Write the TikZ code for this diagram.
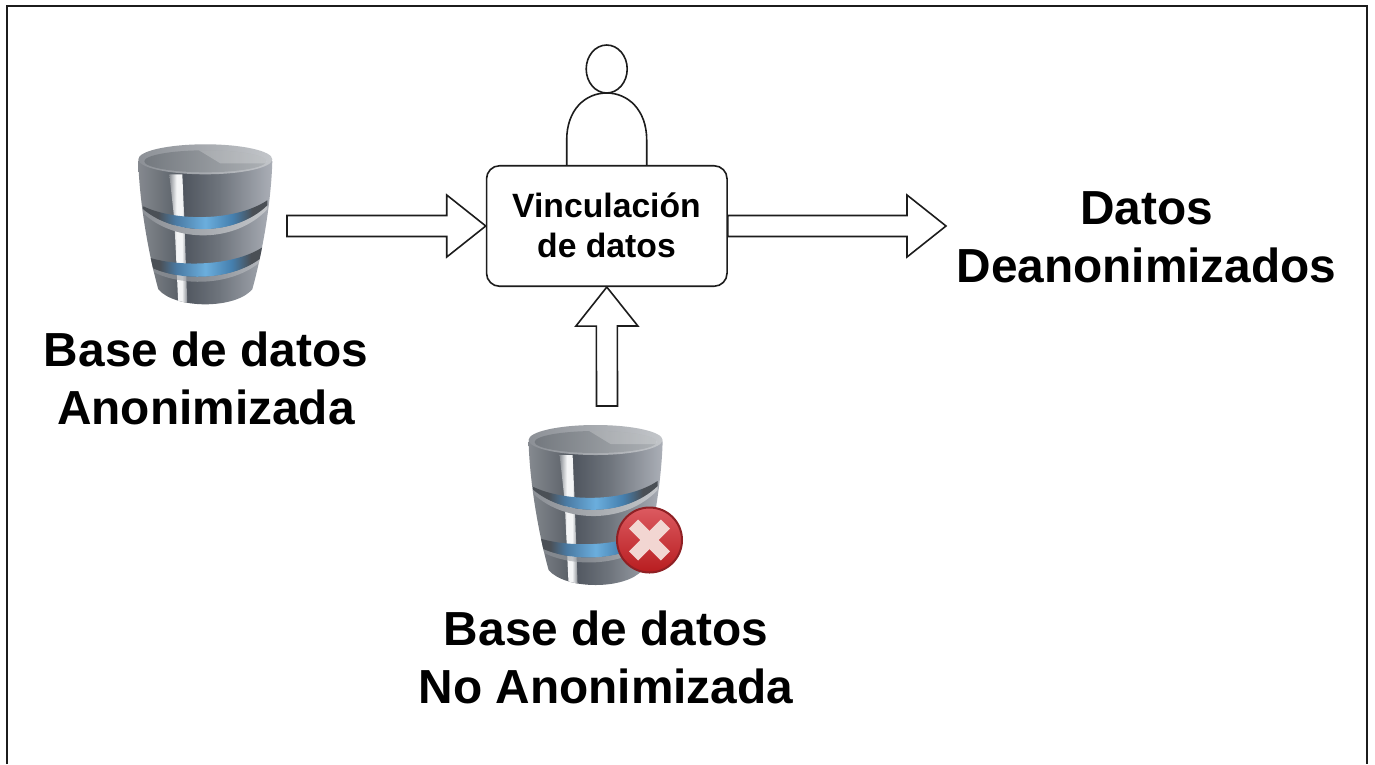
\documentclass[tikz,border=0pt]{standalone}
\usepackage{fontspec}
\setmainfont{Liberation Sans}
\usetikzlibrary{calc}
\definecolor{ink}{HTML}{1C1C1C}
\definecolor{bA}{HTML}{85898F}
\definecolor{bB}{HTML}{61676E}
\definecolor{bC}{HTML}{50565F}
\definecolor{bD}{HTML}{6E747C}
\definecolor{bE}{HTML}{ABAFB7}
\definecolor{sA}{HTML}{8A8E94}
\definecolor{sB}{HTML}{F4F5F6}
\definecolor{nA}{HTML}{4B5056}
\definecolor{nB}{HTML}{4A7AA3}
\definecolor{nC}{HTML}{6BAEDD}
\definecolor{nD}{HTML}{457FAE}
\definecolor{nE}{HTML}{4A4F55}
\definecolor{rA}{HTML}{8C9096}
\definecolor{rB}{HTML}{C3C6CA}
\definecolor{iA}{HTML}{74797F}
\definecolor{iB}{HTML}{ADB1B5}
\definecolor{xTop}{HTML}{DC5A60}
\definecolor{xBot}{HTML}{B81D1F}
\definecolor{xRim}{HTML}{8F2024}
\definecolor{xMark}{HTML}{F2D6D2}
\pgfdeclarehorizontalshading{dbbody}{100bp}{color(0bp)=(bA); color(25bp)=(bA); color(38bp)=(bB); color(42bp)=(bC); color(55bp)=(bD); color(75bp)=(bE); color(100bp)=(bE)}
\pgfdeclarehorizontalshading{dbstrip}{100bp}{color(0bp)=(sA); color(25bp)=(sA); color(45bp)=(sB); color(60bp)=(sB); color(75bp)=(sA); color(100bp)=(sA)}
\pgfdeclarehorizontalshading{dbband}{100bp}{color(0bp)=(nA); color(25bp)=(nA); color(31bp)=(nA); color(38bp)=(nB); color(50bp)=(nC); color(61bp)=(nD); color(69bp)=(nE); color(75bp)=(nE); color(100bp)=(nE)}
\pgfdeclarehorizontalshading{dbring}{100bp}{color(0bp)=(rA); color(25bp)=(rA); color(75bp)=(rB); color(100bp)=(rB)}
\pgfdeclarehorizontalshading{dbinner}{100bp}{color(0bp)=(iA); color(25bp)=(iA); color(75bp)=(iB); color(100bp)=(iB)}
\tikzset{
  frameline/.style={draw=ink,line width=2pt},
  outline/.style={draw=ink,line width=1.6pt},
  bigtext/.style={font=\fontsize{47.8}{58}\selectfont\bfseries,align=center,text=black,inner sep=0pt},
  boxtext/.style={font=\fontsize{33.7}{40}\selectfont\bfseries,align=center,text=black,inner sep=0pt},
  blockarrow/.style={outline,fill=white,miter limit=10,to path={
    ($(\tikztostart)!10.5pt!90:(\tikztotarget)$) --
    ($(\tikztotarget)!39pt!(\tikztostart)!10.5pt!90:(\tikztotarget)$) --
    ($(\tikztotarget)!39pt!(\tikztostart)!31pt!90:(\tikztotarget)$) --
    (\tikztotarget) --
    ($(\tikztotarget)!39pt!(\tikztostart)!31pt!-90:(\tikztotarget)$) --
    ($(\tikztotarget)!39pt!(\tikztostart)!10.5pt!-90:(\tikztotarget)$) --
    ($(\tikztostart)!10.5pt!-90:(\tikztotarget)$) -- cycle}},
  dbicon/.pic={
    \def\dbsil{(-67,2) .. controls (-66,40) and (-58,90) .. (-47,130) .. controls (-30,150) and (30,150) .. (47,130) .. controls (58,90) and (66,40) .. (67,2) .. controls (67,-19) and (-67,-19) .. cycle}
    \shade[shading=dbbody] \dbsil;
    \begin{scope}
      \clip \dbsil;
      \shade[shading=dbstrip] (-36,15) -- (-23,15) -- (-21,60) -- (-18,145) -- (-27,145) -- (-31,60) -- cycle;
      % upper ring and band
      \shade[shading=dbring] (-62,50) .. controls (-30,77) and (30,77) .. (62,46) -- (62,50) .. controls (30,84) and (-30,84) .. (-62,54) -- cycle;
      \shade[shading=dbband] (-62,47) .. controls (-30,62.3) and (30,62.3) .. (62,41) -- (62,46) .. controls (30,77) and (-30,77) .. (-62,50) -- cycle;
      % lower ring and band
      \shade[shading=dbring,opacity=.6] (-60,105) .. controls (-30,123) and (30,123) .. (60,95) -- (60,98) .. controls (30,128.7) and (-30,128.7) .. (-60,108) -- cycle;
      \shade[shading=dbband] (-60,97) .. controls (-30,108) and (30,108) .. (60,86) -- (60,95) .. controls (30,123) and (-30,123) .. (-60,105) -- cycle;
    \end{scope}
    % rim
    \shade[shading=dbring] (0,0) ellipse [x radius=67,y radius=15];
    \begin{scope}
      \clip (0,2) ellipse [x radius=61,y radius=11];
      \shade[shading=dbinner] (-61,-9) rectangle (61,13);
      \fill[white,opacity=.22] (-8,-10) -- (62,-10) -- (62,4) -- (15,4) -- cycle;
    \end{scope}
  }
}
\begin{document}
\begin{tikzpicture}[x=1pt,y=-1pt]
\useasboundingbox (0,0) rectangle (1375,764);
\fill[white] (0,0) rectangle (1375,764);
\draw[frameline] (7,764) -- (7,6) -- (1367,6) -- (1367,764);

% person
\node[draw=ink,line width=1.6pt,circle,inner sep=0pt,minimum width=41pt,minimum height=41pt,xscale=1,yscale=1.17] (head) at (606.7,69) {};
\draw[outline] (566.7,165.7) -- (566.7,140) .. controls (566.7,110) and (585,93) .. (606.7,93) .. controls (628,93) and (646.7,110) .. (646.7,140) -- (646.7,165.7);

% link box
\node[outline,rounded corners=13pt,fill=white,minimum width=240.5pt,minimum height=120.5pt,inner sep=0pt] (link) at (606.8,226) {};
\node[boxtext] (linktext) at (606.5,225) {Vinculación\\de datos};

% databases
\pic (dbanon) at (205.3,159.3) {dbicon};
\pic (dbraw) at (595.6,440) {dbicon};

% badge
\node[circle,minimum size=65pt,inner sep=0pt,draw=xRim,line width=2pt,top color=xTop,bottom color=xBot] (badge) at (649.5,540) {};
\fill[xMark,rotate around={45:(badge.center)}] (627,533.5) rectangle (672,546.5);
\fill[xMark,rotate around={45:(badge.center)}] (643,517.5) rectangle (656,562.5);

% labels
\node[bigtext] (lblanon) at (206,378) {Base de datos\\Anonimizada};
\node[bigtext] (lblraw) at (606,657.5) {Base de datos\\No Anonimizada};
\node[bigtext] (lblout) at (1146.5,237.5) {Datos\\Deanonimizados};

% connectors
\coordinate (tailA) at (287,226);
\coordinate (tipB) at (946,226);
\coordinate (tailC) at (607,406);
\draw[blockarrow] (tailA) to (link.west);
\draw[blockarrow] (link.east) to (tipB);
\draw[blockarrow] (tailC) to (link.south);
\end{tikzpicture}
\end{document}
